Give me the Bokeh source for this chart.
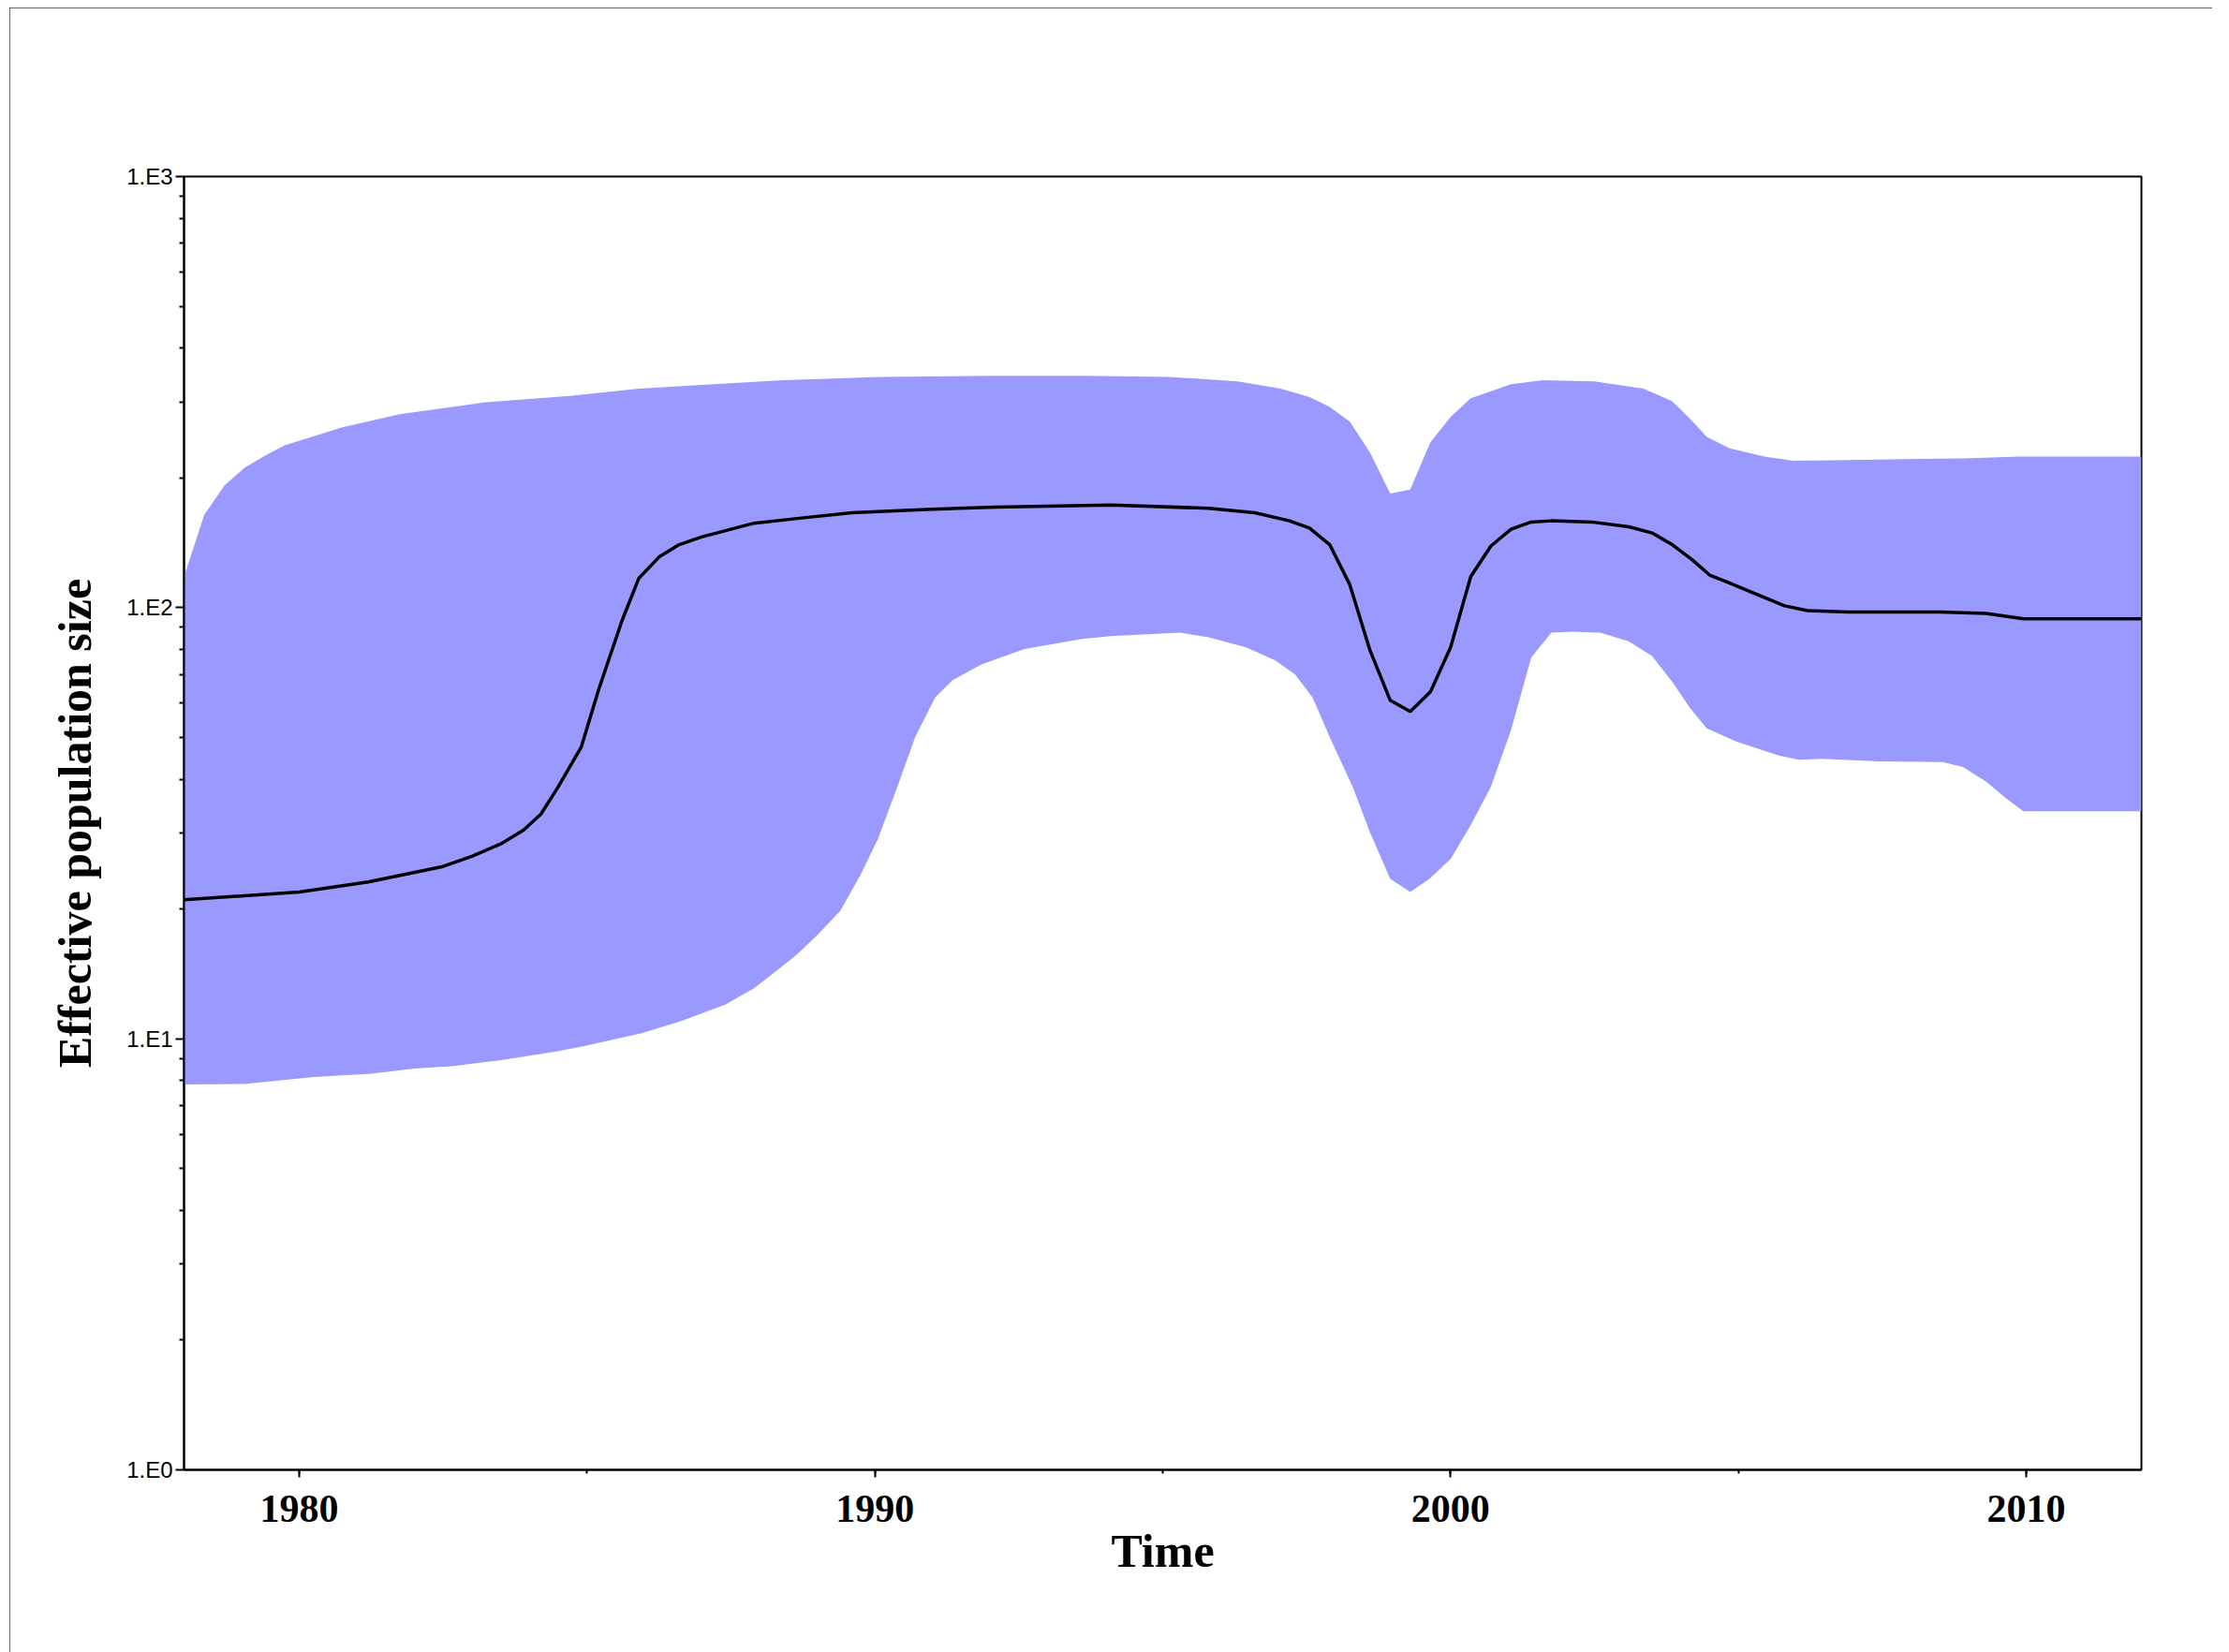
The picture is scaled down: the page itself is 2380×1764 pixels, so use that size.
from bokeh.plotting import figure
from bokeh.models import Range1d, FixedTicker
from bokeh.embed import file_html
from bokeh.resources import INLINE

# ---- data ----
median_years = [1978.0, 1980.0, 1981.2, 1982.5, 1983.0, 1983.5, 1983.9, 1984.2, 1984.5, 1984.9,
                1985.2, 1985.6, 1985.9, 1986.25, 1986.6, 1987.0, 1987.5, 1987.9, 1988.65, 1989.6,
                1990.9, 1992.1, 1994.1, 1995.8, 1996.6, 1997.2, 1997.55, 1997.9, 1998.25, 1998.6,
                1998.95, 1999.3, 1999.65, 2000.0, 2000.35, 2000.7, 2001.05, 2001.4, 2001.75, 2002.45,
                2003.1, 2003.5, 2003.85, 2004.2, 2004.5, 2004.85, 2005.2, 2005.8, 2006.2, 2006.9,
                2008.5, 2009.3, 2009.95, 2012.0]
median_values = [21.0, 21.9, 23.1, 25.1, 26.5, 28.3, 30.5, 33.2, 38.4, 47.5,
                 64.4, 92.7, 117, 131, 140, 146, 152, 157, 161, 166,
                 169, 171, 173, 170, 166, 159, 153, 140, 113, 79.6,
                 61.0, 57.4, 63.8, 80.9, 118, 139, 152, 158, 159, 158,
                 154, 149, 140, 129, 119, 114, 109, 101, 98.4, 97.7,
                 97.7, 97.0, 94.2, 94.2]

upper_years = [1978.0, 1978.35, 1978.7, 1979.05, 1979.4, 1979.75, 1980.75, 1981.75, 1983.2, 1984.7,
               1985.9, 1987.2, 1988.4, 1990.1, 1992.1, 1993.6, 1995.1, 1996.3, 1997.05, 1997.55,
               1997.9, 1998.25, 1998.6, 1998.95, 1999.3, 1999.65, 2000.0, 2000.35, 2001.05, 2001.6,
               2002.5, 2003.35, 2003.85, 2004.15, 2004.45, 2004.85, 2005.45, 2005.95, 2006.9, 2008.9,
               2009.9, 2012.0]
upper_values = [118, 164, 192, 211, 225, 238, 262, 281, 299, 310,
                322, 330, 337, 343, 345, 345, 343, 335, 322, 308,
                292, 270, 229, 184, 188, 242, 277, 306, 330, 337,
                335, 322, 301, 275, 249, 234, 224, 219, 220, 222,
                224, 224]

lower_years = [1978.0, 1979.05, 1980.25, 1981.25, 1982.0, 1982.7, 1983.45, 1984.45, 1984.95, 1985.95,
               1986.65, 1987.4, 1987.9, 1988.3, 1988.65, 1989.0, 1989.4, 1989.75, 1990.05, 1990.4,
               1990.7, 1991.05, 1991.35, 1991.85, 1992.6, 1993.6, 1994.1, 1995.3, 1995.8, 1996.45,
               1996.95, 1997.3, 1997.6, 1997.9, 1998.3, 1998.6, 1998.95, 1999.3, 1999.65, 2000.0,
               2000.35, 2000.7, 2001.05, 2001.4, 2001.75, 2002.1, 2002.6, 2003.1, 2003.5, 2003.85,
               2004.15, 2004.45, 2004.95, 2005.7, 2006.05, 2006.45, 2007.45, 2008.55, 2008.9, 2009.3,
               2009.65, 2009.95, 2012.0]
lower_values = [7.83, 7.85, 8.15, 8.3, 8.53, 8.65, 8.9, 9.33, 9.62, 10.3,
                11.0, 12.0, 13.1, 14.4, 15.7, 17.4, 19.8, 24.0, 29.0, 38.7,
                50.1, 62.0, 67.9, 73.8, 80.2, 84.6, 85.9, 87.5, 85.3, 80.9,
                75.5, 70.0, 62.0, 50.1, 38.4, 30.1, 23.5, 21.9, 23.6, 26.1,
                31.3, 38.4, 52.0, 76.6, 87.5, 87.9, 87.5, 83.4, 77.2, 67.3,
                58.7, 52.5, 49.0, 45.4, 44.4, 44.6, 44.0, 43.8, 42.7, 39.5,
                36.1, 33.7, 33.7]

x_ticks = [1980, 1990, 2000, 2010]
x_tick_labels = ["1980", "1990", "2000", "2010"]
y_ticks = [1, 10, 100, 1000]
y_tick_labels = ["1.E0", "1.E1", "1.E2", "1.E3"]

# ---- figure ----
p = figure(width=2352, height=1756, y_axis_type="log",
           x_range=Range1d(1978.0, 2012.0), y_range=Range1d(1, 1000),
           output_backend="svg", toolbar_location=None,
           min_border_left=186, min_border_right=76, min_border_top=180, min_border_bottom=195)
p.styles = {"outline": "2px solid #333333", "outline-offset": "-2px",
            "margin-left": "10px", "margin-top": "8px"}
p.grid.visible = False
p.outline_line_color = "black"
p.outline_line_width = 2
p.background_fill_color = "white"
p.border_fill_color = "white"

band_x = upper_years + lower_years[::-1]
band_y = upper_values + lower_values[::-1]
p.patch(band_x, band_y, fill_color="#9999FF", line_color=None)
p.line(median_years, median_values, line_color="black", line_width=3.5)

# x axis
xa = p.xaxis[0]
xa.ticker = FixedTicker(ticks=x_ticks, minor_ticks=[1980 + 5 * i for i in range(-1, 8)])
xa.major_label_overrides = {t: l for t, l in zip(x_ticks, x_tick_labels)}
xa.axis_label = "Time"
xa.axis_label_text_font = "Liberation Serif"
xa.axis_label_text_font_style = "bold"
xa.axis_label_text_font_size = "50px"
xa.axis_label_text_color = "black"
xa.axis_label_standoff = 0
xa.major_label_text_font = "Liberation Serif"
xa.major_label_text_font_style = "bold"
xa.major_label_text_font_size = "42px"
xa.major_label_text_color = "black"
xa.major_label_standoff = 19
xa.major_tick_out = 8
xa.major_tick_in = 0
xa.minor_tick_out = 4
xa.minor_tick_in = 0
xa.axis_line_width = 2
xa.major_tick_line_width = 2
xa.minor_tick_line_width = 2

# y axis
ya = p.yaxis[0]
minor = []
for d in [1, 10, 100]:
    for k in range(2, 10):
        minor.append(d * k)
ya.ticker = FixedTicker(ticks=y_ticks, minor_ticks=minor)
ya.major_label_overrides = {t: l for t, l in zip(y_ticks, y_tick_labels)}
ya.axis_label = "Effective population size"
ya.axis_label_text_font = "Liberation Serif"
ya.axis_label_text_font_style = "bold"
ya.axis_label_text_font_size = "50px"
ya.axis_label_text_color = "black"
ya.axis_label_standoff = 24
ya.major_label_text_font = "Liberation Sans"
ya.major_label_text_font_style = "normal"
ya.major_label_text_font_size = "24px"
ya.major_label_text_color = "black"
ya.major_label_standoff = 3
ya.major_tick_out = 9
ya.major_tick_in = 0
ya.minor_tick_out = 5
ya.minor_tick_in = 0
ya.axis_line_width = 2
ya.major_tick_line_width = 2
ya.minor_tick_line_width = 2

open("out.html", "w").write(file_html(p, INLINE))
